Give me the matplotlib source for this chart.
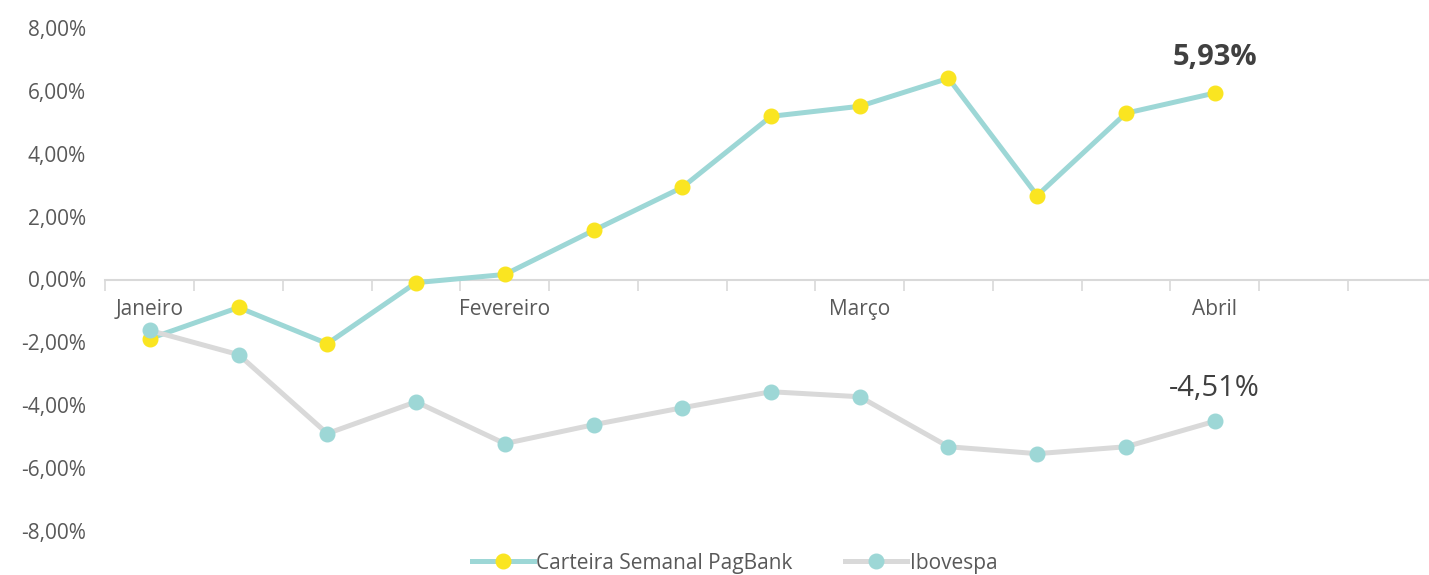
import matplotlib
matplotlib.use("Agg")
import matplotlib.pyplot as plt
from matplotlib.ticker import FuncFormatter

categories = ["Janeiro", "", "", "", "Fevereiro", "", "", "", "Março", "", "", "", "Abril", "", ""]
carteira = [-1.88, -0.89, -2.04, -0.10, 0.16, 1.56, 2.93, 5.19, 5.51, 6.40, 2.67, 5.29, 5.93]
ibovespa = [-1.62, -2.39, -4.90, -3.89, -5.22, -4.62, -4.08, -3.57, -3.73, -5.32, -5.54, -5.32, -4.51]
yticks = [-8, -6, -4, -2, 0, 2, 4, 6, 8]

TEAL = "#9DD7D6"
YELLOW = "#FAE521"
GRAY = "#D9D9D9"
TXT = "#595959"

plt.rcParams["font.family"] = ["Open Sans", "DejaVu Sans"]

fig = plt.figure(figsize=(14.29, 5.75), dpi=100)
ax = fig.add_axes([105.5 / 1429, 1 - 531 / 575, 1331 / 1429, 503 / 575])

x = list(range(len(carteira)))
ax.plot(x, carteira, color=TEAL, lw=3.6, marker="o", ms=10.5, mfc=YELLOW, mec=YELLOW,
        label="Carteira Semanal PagBank", zorder=3, clip_on=False)
ax.plot(x, ibovespa, color=GRAY, lw=3.6, marker="o", ms=10.5, mfc=TEAL, mec=TEAL,
        label="Ibovespa", zorder=4, clip_on=False)

ax.set_xlim(-0.5, len(categories) - 0.5)
ax.set_ylim(-8, 8)
ax.set_yticks(yticks)
ax.yaxis.set_major_formatter(FuncFormatter(lambda v, p: f"{v:.2f}%".replace(".", ",")))

# category boundaries as ticks, labels centred on categories
ax.set_xticks([i - 0.5 for i in range(len(categories) + 1)])
ax.set_xticklabels([])
ax.set_xticks(range(len(categories)), minor=True)
ax.set_xticklabels(categories, minor=True)
ax.tick_params(axis="x", which="major", length=8, width=1.2, color=GRAY, direction="out")
ax.tick_params(axis="x", which="minor", length=0, pad=14, labelsize=15, labelcolor=TXT)
ax.tick_params(axis="y", length=0, pad=14, labelsize=15, labelcolor=TXT)

for s in ["top", "right", "left"]:
    ax.spines[s].set_visible(False)
ax.spines["bottom"].set_position(("data", 0))
ax.spines["bottom"].set_color(GRAY)
ax.spines["bottom"].set_linewidth(1.5)

ax.annotate(f"{carteira[-1]:.2f}%".replace(".", ","), (x[-1], carteira[-1]),
            xytext=(0, 15), textcoords="offset points", ha="center", va="bottom",
            fontsize=21, fontweight="bold", color="#404040")
ax.annotate(f"{ibovespa[-1]:.2f}%".replace(".", ","), (x[-1], ibovespa[-1]),
            xytext=(0, 13), textcoords="offset points", ha="center", va="bottom",
            fontsize=21, color="#404040")

fig.legend(loc="lower center", bbox_to_anchor=(0.514, -0.03), ncol=2, frameon=False,
           fontsize=15, labelcolor=TXT, handlelength=3, columnspacing=2.5, handletextpad=0.1)

fig.savefig("out.png", dpi=100)
